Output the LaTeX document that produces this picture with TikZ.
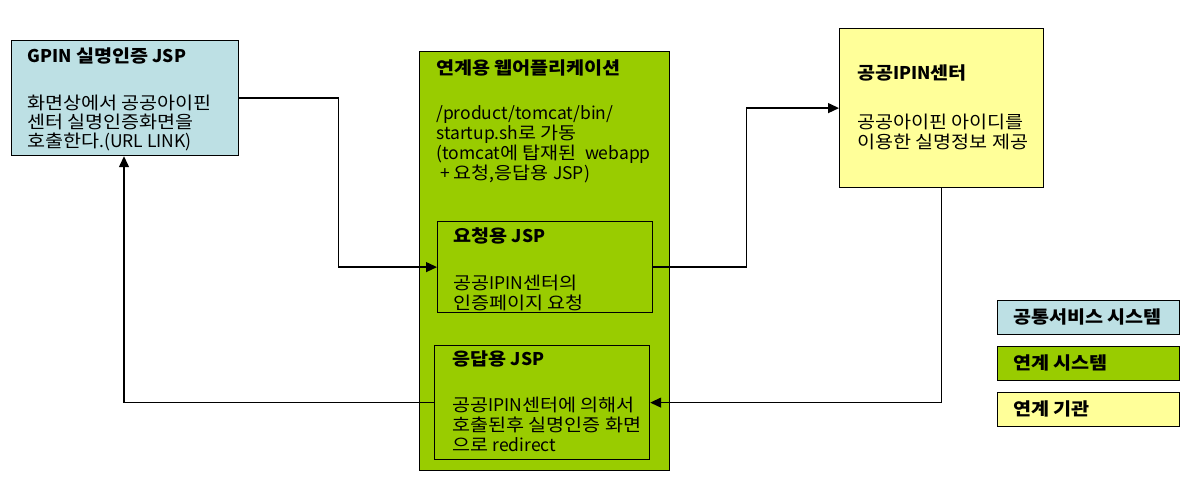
\documentclass[tikz,border=0pt]{standalone}
\usepackage{fontspec}
\setmainfont{Noto Sans CJK KR}[FakeStretch=1.12]
\newfontfamily\latfont{Noto Sans CJK KR}
\newcommand\latn[1]{{\latfont #1}}
\usetikzlibrary{arrows.meta}
\definecolor{cblue}{RGB}{189,224,228}
\definecolor{cgreen}{RGB}{153,204,0}
\definecolor{cyellow}{RGB}{255,255,153}
\begin{document}
\begin{tikzpicture}[x=1pt,y=-1pt,
  box/.style={draw=black, line width=1.2pt, inner sep=0pt, anchor=north west},
  txt/.style={inner sep=0pt, anchor=north west, align=left, font=\fontsize{17.5}{20}\selectfont},
  arr/.style={draw=black, line width=1.3pt, -{Triangle[length=11pt,width=10pt]}}]
\useasboundingbox (0,0) rectangle (1204,485);
% boxes
\node[box, fill=cblue, minimum width=227pt, minimum height=115pt] (gpin) at (11,40) {};
\node[box, fill=cgreen, minimum width=250pt, minimum height=419pt] (app) at (419,51) {};
\node[box, minimum width=215pt, minimum height=91pt] (req) at (437,221) {};
\node[box, minimum width=215pt, minimum height=114pt] (resp) at (434,345) {};
\node[box, fill=cyellow, minimum width=204pt, minimum height=159pt] (ipin) at (839,28) {};
% legend
\node[box, fill=cblue, minimum width=182pt, minimum height=34pt] (lg1) at (997,300) {};
\node[box, fill=cgreen, minimum width=182pt, minimum height=34pt] (lg2) at (997,346) {};
\node[box, fill=cyellow, minimum width=182pt, minimum height=34pt] (lg3) at (997,392) {};
% texts
\node[txt, font=\fontsize{17.5}{19.3}\selectfont] (gpintxt) at (27,48) {\textbf{\latn{GPIN} 실명인증 \latn{JSP}}\\[27pt]화면상에서 공공아이핀\\센터 실명인증화면을\\호출한다\latn{.(URL LINK)}};
\node[txt] (apptxt) at (436,60) {\textbf{연계용 웹어플리케이션}\\[25pt]\latn{/product/tomcat/bin/}\\\latn{startup.sh}로 가동\\\latn{(tomcat}에 탑재된 \latn{\ webapp}\\\latn{\ + }요청\latn{,}응답용 \latn{JSP)}};
\node[txt] (reqtxt) at (453,227) {\textbf{요청용 \latn{JSP}}\\[27pt]공공\latn{IPIN}센터의\\인증페이지 요청};
\node[txt] (resptxt) at (452,351) {\textbf{응답용 \latn{JSP}}\\[26pt]공공\latn{IPIN}센터에 의해서\\호출된후 실명인증 화면\\으로 \latn{redirect}};
\node[txt] (ipintxt) at (857,65) {\textbf{공공\latn{IPIN}센터}\\[29pt]공공아이핀 아이디를\\이용한 실명정보 제공};
\node[txt, anchor=west] (lg1txt) at (1013,317) {\textbf{공통서비스 시스템}};
\node[txt, anchor=west] (lg2txt) at (1013,363) {\textbf{연계 시스템}};
\node[txt, anchor=west] (lg3txt) at (1013,409) {\textbf{연계 기관}};
% connectors
\draw[arr] (gpin.east) -- ++(99,0) |- (req.west);
\draw[arr] (req.east) -- ++(93,0) |- (ipin.west);
\draw[arr] (ipin.south) |- (resp.east);
\draw[arr] (resp.west) -| ([xshift=113pt]gpin.south west);
\end{tikzpicture}
\end{document}
